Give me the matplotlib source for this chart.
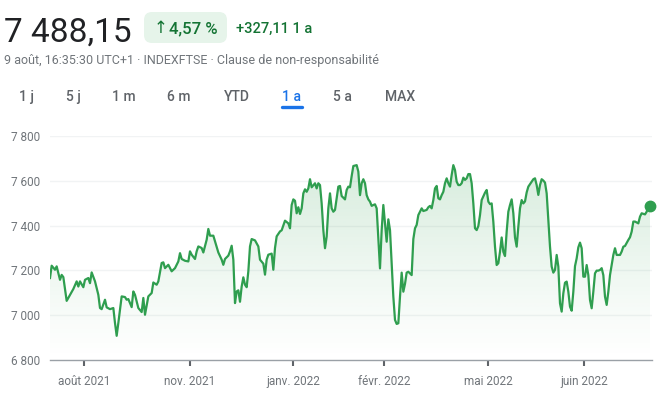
import numpy as np
import matplotlib
matplotlib.use("Agg")
import matplotlib.pyplot as plt
from matplotlib.patches import FancyBboxPatch
from matplotlib.colors import to_rgb
from matplotlib.ticker import FuncFormatter, FixedLocator

# ---------------- data ----------------
days = [0, 1, 3, 4, 6, 7, 8, 10, 12, 14, 16, 17, 18, 20, 21, 23, 24, 25, 27, 29,
        30, 31, 33, 34, 36, 38, 39, 40, 41, 43, 45, 46, 47, 49, 50, 51, 53, 55, 56, 57,
        59, 61, 62, 64, 65, 67, 68, 69, 71, 73, 75, 77, 78, 79, 81, 83, 84, 85, 87, 88,
        89, 91, 92, 94, 95, 96, 98, 99, 101, 103, 104, 105, 107, 108, 109, 110, 111, 112, 113, 114,
        115, 116, 117, 118, 119, 120, 121, 123, 125, 126, 128, 129, 130, 131, 133, 134, 135, 136, 138, 139,
        141, 143, 144, 145, 146, 147, 148, 149, 150, 151, 152, 153, 154, 155, 156, 157, 159, 160, 161, 162,
        163, 164, 165, 166, 167, 168, 169, 170, 171, 172, 173, 174, 175, 177, 178, 179, 180, 181, 182, 184,
        185, 186, 187, 188, 189, 190, 191, 192, 193, 194, 195, 196, 197, 198, 199, 200, 202, 203, 204, 205,
        206, 207, 208, 209, 210, 211, 212, 213, 214, 215, 217, 218, 219, 220, 221, 223, 224, 226, 227, 228,
        229, 230, 231, 232, 233, 234, 235, 236, 237, 238, 239, 240, 241, 242, 243, 244, 245, 246, 247, 248,
        249, 250, 251, 252, 253, 254, 255, 256, 257, 258, 259, 261, 262, 263, 264, 265, 266, 267, 268, 269,
        270, 271, 272, 273, 274, 275, 276, 277, 278, 279, 280, 281, 282, 283, 284, 285, 286, 287, 289, 290,
        291, 292, 293, 294, 295, 296, 297, 298, 299, 300, 301, 302, 303, 304, 305, 306, 307, 308, 309, 310,
        311, 312, 313, 314, 315, 316, 317, 318, 319, 320, 321, 322, 323, 324, 325, 326, 327, 328, 329, 330,
        331, 332, 333, 334, 335, 336, 337, 338, 339, 340, 342, 343, 344, 345, 347, 348, 349, 350, 351, 353,
        354, 355, 357, 358, 359, 360]
closes = [7166, 7221, 7203, 7218, 7158, 7180, 7170, 7064, 7091, 7117, 7151, 7128, 7151, 7125, 7158, 7166, 7143, 7191, 7151, 7091,
          7032, 7027, 7069, 7035, 7027, 7032, 6965, 6908, 6965, 7084, 7081, 7069, 7072, 7036, 7106, 7091, 7032, 7014, 7077, 7002,
          7084, 7099, 7146, 7136, 7151, 7233, 7236, 7210, 7225, 7196, 7210, 7240, 7277, 7251, 7243, 7240, 7285, 7270, 7251, 7285,
          7307, 7300, 7280, 7337, 7385, 7355, 7355, 7330, 7280, 7248, 7225, 7251, 7266, 7285, 7310, 7248, 7054, 7106, 7111, 7060,
          7128, 7169, 7136, 7125, 7196, 7307, 7340, 7334, 7307, 7248, 7230, 7181, 7248, 7270, 7275, 7203, 7300, 7352, 7374, 7379,
          7422, 7410, 7388, 7492, 7517, 7511, 7455, 7482, 7452, 7477, 7544, 7562, 7551, 7566, 7607, 7571, 7589, 7566, 7589, 7581,
          7499, 7380, 7299, 7351, 7477, 7544, 7477, 7462, 7470, 7522, 7574, 7577, 7532, 7517, 7559, 7574, 7571, 7621, 7666, 7670,
          7641, 7536, 7589, 7607, 7589, 7536, 7517, 7507, 7488, 7492, 7495, 7477, 7343, 7209, 7380, 7492, 7328, 7428, 7380, 7232,
          7083, 6979, 6961, 6964, 7083, 7190, 7105, 7140, 7190, 7194, 7179, 7340, 7388, 7403, 7447, 7477, 7465, 7470, 7482, 7488,
          7477, 7514, 7566, 7577, 7522, 7517, 7536, 7551, 7589, 7611, 7589, 7574, 7626, 7670, 7648, 7596, 7581, 7581, 7589, 7614,
          7604, 7611, 7630, 7630, 7589, 7499, 7388, 7380, 7398, 7447, 7514, 7547, 7559, 7507, 7496, 7499, 7417, 7306, 7224, 7232,
          7283, 7347, 7283, 7264, 7373, 7462, 7492, 7517, 7455, 7347, 7306, 7395, 7477, 7514, 7499, 7508, 7548, 7574, 7596, 7607,
          7611, 7581, 7537, 7581, 7607, 7601, 7592, 7544, 7425, 7306, 7217, 7190, 7202, 7269, 7217, 7053, 7016, 7098, 7145, 7150,
          7105, 7038, 7020, 7105, 7219, 7254, 7303, 7324, 7299, 7172, 7172, 7224, 7179, 7068, 7031, 7105, 7187, 7199, 7199, 7202,
          7210, 7179, 7083, 7046, 7105, 7179, 7224, 7269, 7299, 7269, 7269, 7284, 7306, 7309, 7336, 7348, 7373, 7418, 7418, 7410,
          7440, 7455, 7450, 7462, 7484, 7488.15]

x_tick_days = [20.4, 84, 145.8, 200.4, 262.8, 320.4]
x_tick_labels = ["août 2021", "nov. 2021", "janv. 2022", "févr. 2022", "mai 2022", "juin 2022"]
y_ticks = [6800, 7000, 7200, 7400, 7600, 7800]

last_price = "7 488,15"
change_pct = "4,57 %"
change_abs = "+327,11 1 a"
subtitle = "9 août, 16:35:30 UTC+1 · INDEXFTSE · Clause de non-responsabilité"
ranges = ["1 j", "5 j", "1 m", "6 m", "YTD", "1 a", "5 a", "MAX"]
active_range = "1 a"

# ---------------- style ----------------
GREEN = "#2f9e4f"
GREY = "#70757a"
FONT = ["Roboto", "DejaVu Sans"]
plt.rcParams["font.family"] = FONT

W, H = 667, 396
fig = plt.figure(figsize=(W / 100, H / 100), dpi=100)
fig.patch.set_facecolor("white")

# overlay axes in pixel coordinates for the header
hdr = fig.add_axes([0, 0, 1, 1])
hdr.set_xlim(0, W)
hdr.set_ylim(H, 0)
hdr.axis("off")

hdr.text(4, 42, last_price, fontsize=24, color="#202124", va="baseline", ha="left")
badge = FancyBboxPatch((144, 12), 83, 31, boxstyle="round,pad=0,rounding_size=8",
                       facecolor="#e6f4ea", edgecolor="none")
hdr.add_patch(badge)
hdr.text(154, 33, "↑", fontsize=12, color="#137333", va="baseline", ha="left",
         family=["DejaVu Sans"])
hdr.text(169, 33, change_pct, fontsize=12, color="#137333", va="baseline", ha="left",
         fontweight="medium")
hdr.text(236, 33, change_abs, fontsize=10.5, color="#137333", va="baseline", ha="left",
         fontweight="medium")
hdr.text(4, 64, subtitle, fontsize=9, color=GREY, va="baseline", ha="left")

tab_centers = [26.5, 73, 124, 179, 236.5, 291.5, 342.5, 400]
for label, cx in zip(ranges, tab_centers):
    active = label == active_range
    hdr.text(cx, 101, label, fontsize=10, color="#1a73e8" if active else "#5f6368",
             va="baseline", ha="center", fontweight="medium")
    if active:
        hdr.plot([cx - 10, cx + 10], [107, 107], color="#1a73e8", lw=2.4,
                 solid_capstyle="round")

# ---------------- chart ----------------
x0, x1 = 50, 652
y_top, y_bot = 136, 360
ax = fig.add_axes([x0 / W, 1 - y_bot / H, (x1 - x0) / W, (y_bot - y_top) / H])
xmax = (x1 - x0) * 0.6
ax.set_xlim(0, xmax)
ax.set_ylim(y_ticks[0], y_ticks[-1])

for v in y_ticks[1:]:
    ax.axhline(v, color="#f1f3f4", lw=1.0, zorder=0)

# gradient fill under the line
poly = ax.fill_between(days, closes, y_ticks[0], color="none", lw=0)
top_val = max(closes)
n = 256
rgba = np.zeros((n, 1, 4))
rgba[:, 0, :3] = to_rgb(GREEN)
rgba[:, 0, 3] = np.linspace(0.0, 0.24, n) ** 1.15
img = ax.imshow(rgba, extent=[0, xmax, y_ticks[0], top_val], origin="lower",
                aspect="auto", zorder=1, interpolation="bilinear")
clip = poly.get_paths()[0]
img.set_clip_path(clip, transform=ax.transData)
ax.set_xlim(0, xmax)
ax.set_ylim(y_ticks[0], y_ticks[-1])

ax.plot(days, closes, color=GREEN, lw=1.6, zorder=3, solid_joinstyle="round")
ax.plot(days[-1], closes[-1], "o", color=GREEN, ms=7.5, zorder=4, clip_on=False)

for s in ["top", "right", "left"]:
    ax.spines[s].set_visible(False)
ax.spines["bottom"].set_color("#9aa0a6")
ax.spines["bottom"].set_linewidth(1.0)

ax.yaxis.set_major_locator(FixedLocator(y_ticks))
ax.yaxis.set_major_formatter(FuncFormatter(lambda v, p: f"{int(v):,}".replace(",", " ")))
ax.tick_params(axis="y", length=0, pad=7, labelsize=8.5, labelcolor=GREY)
ax.set_xticks(x_tick_days)
ax.set_xticklabels(x_tick_labels)
ax.tick_params(axis="x", length=4, width=1.5, color="#5f6368", pad=7,
               labelsize=8.5, labelcolor=GREY)

fig.savefig("out.png", dpi=100, facecolor="white")
